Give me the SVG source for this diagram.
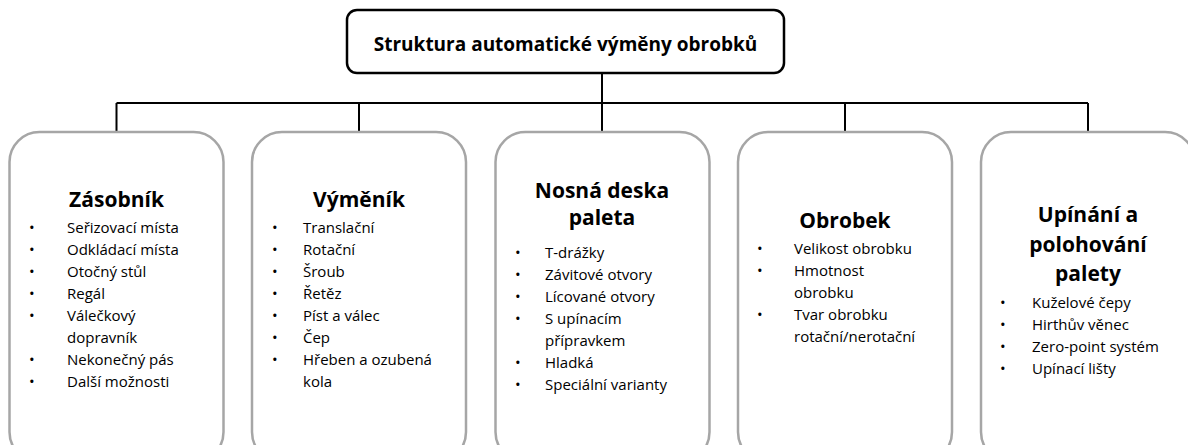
<svg xmlns="http://www.w3.org/2000/svg" width="1188" height="445" viewBox="0 0 1188 445">
<style>
.box{fill:#ffffff;stroke:#a6a6a6;stroke-width:2.5}
.root{fill:#ffffff;stroke:#000000;stroke-width:2.5}
.conn{fill:none;stroke:#000000;stroke-width:2}
.t{font-family:"Open Sans","Liberation Sans",sans-serif;font-weight:bold;font-size:21px;fill:#000;text-anchor:middle}
.rt{font-family:"Open Sans","Liberation Sans",sans-serif;font-weight:bold;font-size:19px;fill:#000;text-anchor:middle}
.i{font-family:"Open Sans","Liberation Sans",sans-serif;font-size:15px;fill:#000}
</style>
<rect width="1188" height="445" fill="#ffffff"/>
<g id="connectors">
<path class="conn" d="M602 73 V103 M116.5 103 H1088 M116.5 103 V132 M359 103 V132 M602 103 V132 M845 103 V132 M1088 103 V132"/>
</g>
<g id="root">
<rect class="root" x="347" y="10" width="437" height="63" rx="10"/>
<text class="rt" x="565.5" y="51">Struktura automatické výměny obrobků</text>
</g>
<g id="zasobnik">
<rect class="box" x="9.5" y="132" width="214" height="330" rx="30"/>
<text class="t" x="116.5" y="207">Zásobník</text>
<g class="i">
<text x="29" y="233">•</text><text x="67" y="233">Seřizovací místa</text>
<text x="29" y="255">•</text><text x="67" y="255">Odkládací místa</text>
<text x="29" y="277">•</text><text x="67" y="277">Otočný stůl</text>
<text x="29" y="299">•</text><text x="67" y="299">Regál</text>
<text x="29" y="321">•</text><text x="67" y="321">Válečkový</text>
<text x="67" y="343">dopravník</text>
<text x="29" y="365">•</text><text x="67" y="365">Nekonečný pás</text>
<text x="29" y="387">•</text><text x="67" y="387">Další možnosti</text>
</g>
</g>
<g id="vymenik">
<rect class="box" x="252" y="132" width="214" height="330" rx="30"/>
<text class="t" x="359" y="207">Výměník</text>
<g class="i">
<text x="272" y="233">•</text><text x="303" y="233">Translační</text>
<text x="272" y="255">•</text><text x="303" y="255">Rotační</text>
<text x="272" y="277">•</text><text x="303" y="277">Šroub</text>
<text x="272" y="299">•</text><text x="303" y="299">Řetěz</text>
<text x="272" y="321">•</text><text x="303" y="321">Píst a válec</text>
<text x="272" y="343">•</text><text x="303" y="343">Čep</text>
<text x="272" y="365">•</text><text x="303" y="365">Hřeben a ozubená</text>
<text x="303" y="387">kola</text>
</g>
</g>
<g id="nosna-deska">
<rect class="box" x="495.5" y="132" width="214" height="330" rx="30"/>
<text class="t" x="602" y="198">Nosná deska</text>
<text class="t" x="602" y="225">paleta</text>
<g class="i">
<text x="515" y="258">•</text><text x="545" y="258">T-drážky</text>
<text x="515" y="280">•</text><text x="545" y="280">Závitové otvory</text>
<text x="515" y="302">•</text><text x="545" y="302">Lícované otvory</text>
<text x="515" y="324">•</text><text x="545" y="324">S upínacím</text>
<text x="545" y="346">přípravkem</text>
<text x="515" y="368">•</text><text x="545" y="368">Hladká</text>
<text x="515" y="390">•</text><text x="545" y="390">Speciální varianty</text>
</g>
</g>
<g id="obrobek">
<rect class="box" x="738" y="132" width="214" height="330" rx="30"/>
<text class="t" x="845" y="228">Obrobek</text>
<g class="i">
<text x="757" y="254">•</text><text x="794" y="254">Velikost obrobku</text>
<text x="757" y="276">•</text><text x="794" y="276">Hmotnost</text>
<text x="794" y="298">obrobku</text>
<text x="757" y="320">•</text><text x="794" y="320">Tvar obrobku</text>
<text x="794" y="342">rotační/nerotační</text>
</g>
</g>
<g id="upinani">
<rect class="box" x="981" y="132" width="214" height="330" rx="30"/>
<text class="t" x="1088" y="222">Upínání a</text>
<text class="t" x="1088" y="252">polohování</text>
<text class="t" x="1088" y="281">palety</text>
<g class="i">
<text x="1000" y="308">•</text><text x="1032" y="308">Kuželové čepy</text>
<text x="1000" y="330">•</text><text x="1032" y="330">Hirthův věnec</text>
<text x="1000" y="352">•</text><text x="1032" y="352">Zero-point systém</text>
<text x="1000" y="374">•</text><text x="1032" y="374">Upínací lišty</text>
</g>
</g>
</svg>
